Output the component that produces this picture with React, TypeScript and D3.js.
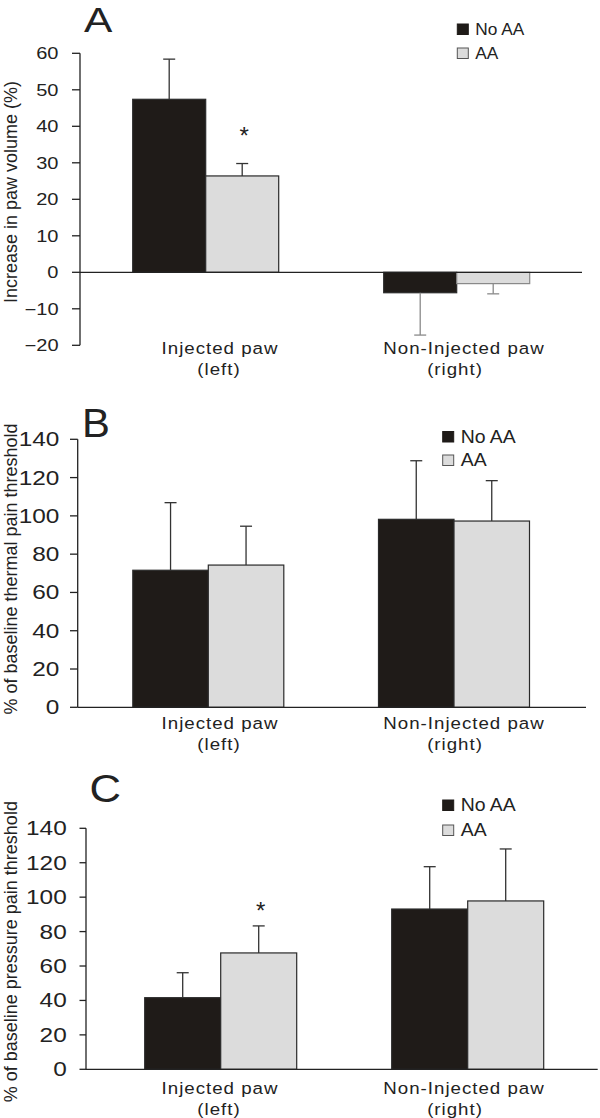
import React from "react";
import * as d3 from "d3";

// ---------- DATA ----------
const groups = ["Injected paw", "Non-Injected paw"];
const groupSub = ["(left)", "(right)"];
const seriesNames = ["No AA", "AA"];

// Panel A: increase in paw volume (%)
const volNoAA = [47.4, -5.6];
const volNoAAErr = [11.0, 11.6];
const volAA = [26.4, -3.1];
const volAAErr = [3.4, 2.8];
const volSigAA = [true, false];
const volTicks = [-20, -10, 0, 10, 20, 30, 40, 50, 60];

// Panel B: % of baseline thermal pain threshold
const thermNoAA = [71.6, 98.2];
const thermNoAAErr = [35.3, 30.6];
const thermAA = [74.3, 97.3];
const thermAAErr = [20.3, 21.1];
const thermSigAA = [false, false];

// Panel C: % of baseline pressure pain threshold
const pressNoAA = [41.6, 93.1];
const pressNoAAErr = [14.5, 24.6];
const pressAA = [67.6, 97.8];
const pressAAErr = [15.7, 30.2];
const pressSigAA = [true, false];

const pctTicks = [0, 20, 40, 60, 80, 100, 120, 140];

// ---------- STYLE ----------
const FONT = "'Liberation Sans', Arial, Helvetica, sans-serif";
const BLACK = "#1f1b18";
const GRAY = "#dcdcdc";
const INK = "#222";

type PanelCfg = {
  letter: string;
  yTitle: string;
  noAA: number[];
  noAAErr: number[];
  aa: number[];
  aaErr: number[];
  sig: boolean[];
  domain: [number, number];
  ticks: number[];
  axisX: number;
  axisRight: number;
  yBottom: number;
  yTop: number;
  centers: [number, number];
  barW: number;
  tickLen: number;
  tickGap: number;
  tickFont: number;
  legX: number;
  legY: number;
  legGap: number;
  legFont: number;
  letterX: number;
  letterY: number;
  letterFont: number;
  letterSx: number;
  xl1: number;
  xl2: number;
  yTitleY: number;
  starOffset: number;
};

const panels: PanelCfg[] = [
  {
    letter: "A",
    yTitle: "Increase in paw volume (%)",
    noAA: volNoAA, noAAErr: volNoAAErr, aa: volAA, aaErr: volAAErr, sig: volSigAA,
    domain: [-20, 60], ticks: volTicks,
    axisX: 80, axisRight: 582, yBottom: 345.3, yTop: 53.3,
    centers: [205.7, 456.7], barW: 73,
    tickLen: 8, tickGap: 21.5, tickFont: 16,
    legX: 457.3, legY: 24, legGap: 24, legFont: 16,
    letterX: 84, letterY: 32, letterFont: 36, letterSx: 1.18,
    xl1: 354, xl2: 375, yTitleY: 192, starOffset: 20,
  },
  {
    letter: "B",
    yTitle: "% of baseline thermal pain threshold",
    noAA: thermNoAA, noAAErr: thermNoAAErr, aa: thermAA, aaErr: thermAAErr, sig: thermSigAA,
    domain: [0, 140], ticks: pctTicks,
    axisX: 77.7, axisRight: 586, yBottom: 707.3, yTop: 439.3,
    centers: [208.3, 454], barW: 75.5,
    tickLen: 7.7, tickGap: 18.4, tickFont: 19.5,
    legX: 442.7, legY: 431.5, legGap: 23.5, legFont: 18,
    letterX: 82, letterY: 437.3, letterFont: 41, letterSx: 1.02,
    xl1: 729, xl2: 750, yTitleY: 569, starOffset: 8,
  },
  {
    letter: "C",
    yTitle: "% of baseline pressure pain threshold",
    noAA: pressNoAA, noAAErr: pressNoAAErr, aa: pressAA, aaErr: pressAAErr, sig: pressSigAA,
    domain: [0, 140], ticks: pctTicks,
    axisX: 86, axisRight: 597.7, yBottom: 1069.3, yTop: 828.3,
    centers: [220.7, 467.7], barW: 76,
    tickLen: 6.5, tickGap: 19.3, tickFont: 19.5,
    legX: 442.7, legY: 800, legGap: 25, legFont: 18,
    letterX: 89.5, letterY: 801.5, letterFont: 39, letterSx: 1.12,
    xl1: 1094, xl2: 1115, yTitleY: 951.7, starOffset: 7,
  },
];

const labelX1 = [220, 464];
const labelX2 = [219, 455];

function T(props: {
  x: number; y: number; size: number; sx?: number; anchor?: string;
  rotate?: number; ls?: number; fill?: string; children: React.ReactNode;
}) {
  const { x, y, size, sx = 1, anchor = "start", rotate = 0, ls = 0, fill = INK, children } = props;
  return (
    <text
      transform={`translate(${x},${y}) scale(${sx},1)${rotate ? ` rotate(${rotate})` : ""}`}
      textAnchor={anchor as any}
      fontSize={size}
      fontFamily={FONT}
      letterSpacing={ls}
      fill={fill}
    >
      {children}
    </text>
  );
}

function Panel({ p }: { p: PanelCfg }) {
  const y = d3.scaleLinear().domain(p.domain).range([p.yBottom, p.yTop]);
  const xg = d3.scalePoint<string>().domain(groups).range(p.centers);
  const xs = d3.scaleBand<string>().domain(seriesNames).range([-p.barW, p.barW]).padding(0);
  const fmt = d3.format("");
  const y0 = y(0);
  const capHalf = 6;

  const series = [
    { name: "No AA", vals: p.noAA, errs: p.noAAErr, fill: BLACK },
    { name: "AA", vals: p.aa, errs: p.aaErr, fill: GRAY },
  ];

  return (
    <g>
      {/* panel letter */}
      <T x={p.letterX} y={p.letterY} size={p.letterFont} sx={p.letterSx}>{p.letter}</T>

      {/* y title */}
      <T x={16.5} y={p.yTitleY} size={18} anchor="middle" rotate={-90}>{p.yTitle}</T>

      {/* bars and error bars */}
      {series.map((s) =>
        groups.map((g, i) => {
          const v = s.vals[i];
          const e = s.errs[i];
          const x0 = (xg(g) as number) + (xs(s.name) as number);
          const w = xs.bandwidth();
          const yv = y(v);
          const neg = v < 0;
          const errEnd = y(neg ? v - e : v + e);
          const cx = x0 + w / 2;
          const errColor = neg ? "#8a8a8a" : "#333";
          return (
            <g key={s.name + g}>
              <rect
                x={x0}
                y={Math.min(yv, y0)}
                width={w}
                height={Math.abs(yv - y0)}
                fill={s.fill}
                stroke={neg && s.fill === GRAY ? "#888" : "#2a2a2a"}
                strokeWidth={1.2}
              />
              <line x1={cx} x2={cx} y1={yv} y2={errEnd} stroke={errColor} strokeWidth={1.3} />
              <line x1={cx - capHalf} x2={cx + capHalf} y1={errEnd} y2={errEnd} stroke={errColor} strokeWidth={1.3} />
            </g>
          );
        })
      )}

      {/* significance stars */}
      {groups.map((g, i) =>
        p.sig[i] ? (
          <T
            key={"star" + g}
            x={(xg(g) as number) + (xs("AA") as number) + xs.bandwidth() / 2 + 2}
            y={y(p.aa[i] + p.aaErr[i]) - p.starOffset}
            size={24}
            anchor="middle"
          >
            *
          </T>
        ) : null
      )}

      {/* y axis */}
      <line x1={p.axisX} x2={p.axisX} y1={y(p.domain[0])} y2={y(p.domain[1])} stroke={INK} strokeWidth={1.3} />
      {p.ticks.map((t) => (
        <g key={t}>
          <line x1={p.axisX - p.tickLen} x2={p.axisX} y1={y(t)} y2={y(t)} stroke={INK} strokeWidth={1.3} />
          <T x={p.axisX - p.tickGap} y={y(t) + p.tickFont * 0.36} size={p.tickFont} sx={1.25} anchor="end">
            {t < 0 ? "\u2212" + fmt(-t) : fmt(t)}
          </T>
        </g>
      ))}

      {/* zero baseline */}
      <line x1={p.axisX} x2={p.axisRight} y1={y0} y2={y0} stroke={INK} strokeWidth={1.3} />

      {/* category labels */}
      {groups.map((g, i) => (
        <g key={"lab" + g}>
          <T x={labelX1[i]} y={p.xl1} size={17} sx={1.1} ls={0.9} anchor="middle">{g}</T>
          <T x={labelX2[i]} y={p.xl2} size={17} sx={1.1} ls={0.9} anchor="middle">{groupSub[i]}</T>
        </g>
      ))}

      {/* legend */}
      {series.map((s, k) => (
        <g key={"leg" + s.name}>
          <rect
            x={p.legX}
            y={p.legY + k * p.legGap}
            width={11}
            height={10.5}
            fill={s.fill}
            stroke={s.fill === GRAY ? "#555" : BLACK}
            strokeWidth={1}
          />
          <T x={p.legX + 18} y={p.legY + k * p.legGap + 11} size={p.legFont} sx={1.08}>
            {s.name}
          </T>
        </g>
      ))}
    </g>
  );
}

export default function App() {
  return (
    <svg
      width={600}
      height={1118}
      viewBox="0 0 600 1118"
      style={{ position: "absolute", left: 0, top: 0, background: "#fff" }}
    >
      <rect x={0} y={0} width={600} height={1118} fill="#fff" />
      {panels.map((p) => (
        <Panel key={p.letter} p={p} />
      ))}
    </svg>
  );
}
